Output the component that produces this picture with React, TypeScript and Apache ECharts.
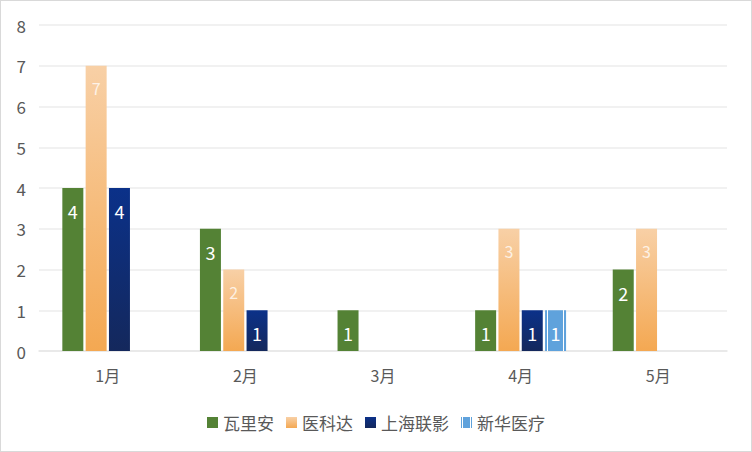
import React, { useEffect, useRef } from 'react';
import * as echarts from 'echarts';

const months = ['1月', '2月', '3月', '4月', '5月'];
const varian = [4, 3, 1, 1, 2];
const yikeda = [7, 2, null, 3, 3];
const shanghaiUnited = [4, 1, null, 1, null];
const xinhua = [null, null, null, 1, null];

const FONT = '"Noto Sans CJK SC", "Noto Sans", sans-serif';

const darkLabel = {
  show: true,
  position: 'insideTop',
  distance: 14,
  color: '#ffffff',
  fontSize: 18,
  fontFamily: FONT,
};

export default function App() {
  const chartRef = useRef<HTMLDivElement>(null);

  useEffect(() => {
    document.body.style.margin = '0';
    if (!chartRef.current) return;
    const chart = echarts.init(chartRef.current, null, { renderer: 'svg' });

    const orange = new echarts.graphic.LinearGradient(0, 0, 0, 1, [
      { offset: 0, color: '#f8d0a6' },
      { offset: 1, color: '#f4a852' },
    ]);
    const navy = new echarts.graphic.LinearGradient(0, 0, 0, 1, [
      { offset: 0, color: '#0b3189' },
      { offset: 1, color: '#14285c' },
    ]);
    const blue = '#5fa2dc';
    const striped = new echarts.graphic.LinearGradient(0, 0, 1, 0, [
      { offset: 0, color: blue },
      { offset: 0.1, color: blue },
      { offset: 0.1, color: '#ffffff' },
      { offset: 0.15, color: '#ffffff' },
      { offset: 0.15, color: blue },
      { offset: 0.85, color: blue },
      { offset: 0.85, color: '#ffffff' },
      { offset: 0.9, color: '#ffffff' },
      { offset: 0.9, color: blue },
      { offset: 1, color: blue },
    ]);

    chart.setOption({
      animation: false,
      backgroundColor: '#ffffff',
      grid: { left: 38, right: 24, top: 24, bottom: 100 },
      legend: {
        top: 408,
        left: 'center',
        itemWidth: 11,
        itemHeight: 11,
        itemGap: 12,
        icon: 'rect',
        textStyle: { color: '#595959', fontSize: 17, fontFamily: FONT },
      },
      xAxis: {
        type: 'category',
        data: months,
        axisLine: { lineStyle: { color: '#e6e6e6', width: 1.5 } },
        axisTick: { show: false },
        axisLabel: { color: '#595959', fontSize: 16, margin: 16, fontFamily: FONT },
      },
      yAxis: {
        type: 'value',
        min: 0,
        max: 8,
        interval: 1,
        axisLine: { show: false },
        axisTick: { show: false },
        axisLabel: { color: '#595959', fontSize: 17, margin: 13, fontFamily: FONT },
        splitLine: { lineStyle: { color: '#ececec', width: 1.5 } },
      },
      series: [
        {
          name: '瓦里安',
          type: 'bar',
          data: varian,
          barWidth: 21,
          barGap: '11%',
          itemStyle: { color: '#548235' },
          label: darkLabel,
        },
        {
          name: '医科达',
          type: 'bar',
          data: yikeda,
          barWidth: 21,
          barGap: '11%',
          itemStyle: { color: orange },
          label: { ...darkLabel, color: 'rgba(255,255,255,0.75)', fontSize: 16 },
        },
        {
          name: '上海联影',
          type: 'bar',
          data: shanghaiUnited,
          barWidth: 21,
          barGap: '11%',
          itemStyle: { color: navy },
          label: darkLabel,
        },
        {
          name: '新华医疗',
          type: 'bar',
          data: xinhua,
          barWidth: 21,
          barGap: '11%',
          itemStyle: { color: striped },
          label: darkLabel,
        },
      ],
    });

    return () => {
      chart.dispose();
    };
  }, []);

  return (
    <div
      ref={chartRef}
      style={{
        width: 752,
        height: 452,
        boxSizing: 'border-box',
        border: '1px solid #d9d9d9',
      }}
    />
  );
}
